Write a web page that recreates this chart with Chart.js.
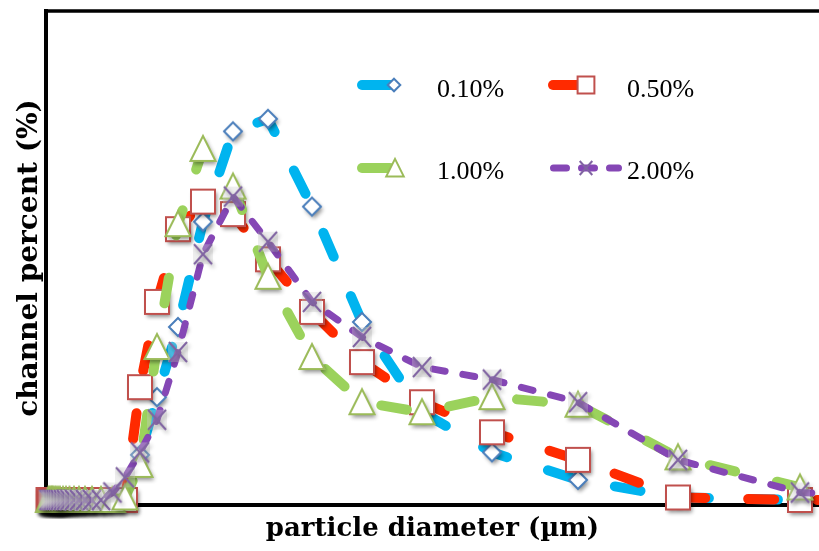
<!DOCTYPE html>
<html>
<head>
<meta charset="utf-8">
<script src="https://cdn.jsdelivr.net/npm/chart.js@4.4.1/dist/chart.umd.min.js"></script>
<style>
  html, body { margin: 0; padding: 0; background: #fff; }
  #wrap { width: 819px; height: 551px; }
</style>
</head>
<body>
<div id="wrap"><canvas id="psd" width="819" height="551"></canvas></div>
<script>
// particle diameter channels (µm)
const diameters = [0.05, 0.07, 0.10, 0.12, 0.14, 0.17, 0.20, 0.24, 0.28, 0.34, 0.40, 0.47, 0.56, 0.66, 0.78, 0.92, 1.10,
                   1.33, 1.58, 1.88, 2.22, 2.64, 3.14, 3.74, 4.44, 5.32, 6.32, 7.52, 8.92, 10.64, 12.64, 15.08, 17.90];

const seriesNames = ['0.10%', '0.50%', '1.00%', '2.00%'];

// channel percent (%) per concentration
const pct010 = [0, 0, 0, 0, 0, 0, 0, 0, 0, 0, 0, 0, 0, 0, 0, 0, 0,
                0.0, 0.2, 1.8, 4.1, 6.9, 11.1, 14.7, 15.2, 11.7, 7.1, 3.5, 1.9, 0.8, 0.1, 0.0, 0.0];
const pct050 = [0, 0, 0, 0, 0, 0, 0, 0, 0, 0, 0, 0, 0, 0, 0, 0, 0,
                0.0, 0.0, 4.5, 7.9, 10.8, 11.9, 11.4, 9.6, 7.5, 5.5, 3.9, 2.7, 1.6, 0.1, 0.0, 0.0];
const pct100 = [0, 0, 0, 0, 0, 0, 0, 0, 0, 0, 0, 0, 0, 0, 0, 0, 0,
                0.0, 0.1, 1.4, 6.1, 11.0, 14.0, 12.5, 8.9, 5.7, 3.9, 3.5, 4.1, 3.8, 1.7, 0.5, 0.1];
const pct200 = [0, 0, 0, 0, 0, 0, 0, 0, 0, 0, 0, 0, 0, 0, 0, 0, 0,
                0.3, 0.9, 1.9, 3.2, 5.9, 9.8, 12.1, 10.3, 7.9, 6.5, 5.3, 4.8, 3.9, 1.6, 0.3, 0.1];

const X_MAX = 15.46;
const Y_MIN = -0.2, Y_MAX = 19.5;

// marker bitmaps (white filled, with a soft drop shadow like the original)
function makeMarker(kind, stroke, scale, shadow) {
    const c = document.createElement('canvas');
    c.width = 44; c.height = 44;
    const g = c.getContext('2d');
    g.translate(22, 22);
    g.scale(scale, scale);
    g.lineWidth = 2 / scale;
    g.lineJoin = 'miter';
    if (shadow) {
        g.shadowColor = 'rgba(0,0,0,0.45)';
        g.shadowBlur = 4; g.shadowOffsetX = 2; g.shadowOffsetY = 3;
    }
    g.beginPath();
    if (kind === 'diamond') {
        g.moveTo(0, -9); g.lineTo(9, 0); g.lineTo(0, 9); g.lineTo(-9, 0); g.closePath();
    } else if (kind === 'square') {
        g.rect(-12, -12, 24, 24);
    } else if (kind === 'triangle') {
        g.moveTo(0, -13); g.lineTo(12.5, 12); g.lineTo(-12.5, 12); g.closePath();
    }
    if (kind === 'cross') {
        g.fillStyle = shadow ? 'rgba(205,205,205,0.35)' : 'rgba(0,0,0,0)';
        g.shadowColor = 'transparent';
        g.fillRect(-10, -10, 20, 20);
        if (shadow) g.shadowColor = 'rgba(0,0,0,0.35)';
        g.beginPath();
        g.moveTo(-9, -10); g.lineTo(9, 10);
        g.moveTo(9, -10); g.lineTo(-9, 10);
        g.strokeStyle = stroke;
        g.stroke();
        return c;
    }
    g.fillStyle = '#fff';
    g.fill();
    g.shadowColor = 'transparent';
    g.strokeStyle = stroke;
    g.stroke();
    return c;
}

const styles = [
    { line: '#00B4EF', mark: '#4A7EBB', kind: 'diamond',  width: 10, dash: [26, 43] },
    { line: '#FF2A00', mark: '#C0504D', kind: 'square',   width: 10, dash: [26, 43] },
    { line: '#9BD25C', mark: '#9BBB59', kind: 'triangle', width: 10, dash: [26, 43] },
    { line: '#8547B5', mark: '#8064A2', kind: 'cross',    width: 7,  dash: [12, 18] }
];
const seriesValues = [pct010, pct050, pct100, pct200];

const datasets = seriesValues.map((vals, i) => ({
    label: seriesNames[i],
    data: vals.map((v, j) => ({ x: diameters[j], y: v })),
    borderColor: styles[i].line,
    borderWidth: styles[i].width,
    borderDash: styles[i].dash,
    borderCapStyle: 'round',
    borderJoinStyle: 'round',
    tension: 0,
    fill: false,
    pointStyle: makeMarker(styles[i].kind, styles[i].mark, 1, true),
    pointRadius: 5,
    clip: false,
    order: 4 - i
}));

// top frame line
const framePlugin = {
    id: 'frame',
    beforeDatasetsDraw(chart) {
        const { ctx, chartArea } = chart;
        ctx.save();
        ctx.strokeStyle = '#000';
        ctx.lineWidth = 3.5;
        ctx.beginPath();
        ctx.moveTo(chartArea.left - 2, chartArea.top);
        ctx.lineTo(chart.width, chartArea.top);
        ctx.stroke();
        ctx.restore();
    }
};

// 2 x 2 legend inside the plot, like the original
const legendPlugin = {
    id: 'legend2x2',
    afterDraw(chart) {
        const ctx = chart.ctx;
        const items = [
            { x1: 362, x2: 390, mx: 394, y: 85,  tx: 437, ty: 97 },
            { x1: 553, x2: 582, mx: 586, y: 85,  tx: 627, ty: 97 },
            { x1: 362, x2: 390, mx: 395, y: 168, tx: 437, ty: 179 },
            { x1: 553.5, x2: 618.5, mx: 586, y: 168, tx: 627, ty: 179 }
        ];
        items.forEach((it, i) => {
            const st = styles[i];
            ctx.save();
            ctx.strokeStyle = st.line;
            ctx.lineWidth = st.width;
            ctx.lineCap = 'round';
            if (i === 3) ctx.setLineDash([13, 15]);
            ctx.beginPath();
            ctx.moveTo(it.x1, it.y);
            ctx.lineTo(it.x2, it.y);
            ctx.stroke();
            ctx.setLineDash([]);
            const m = makeMarker(st.kind, st.mark, 0.7, false);
            ctx.drawImage(m, it.mx - 22, it.y - 22);
            ctx.fillStyle = '#000';
            ctx.font = '26px "Liberation Serif", "DejaVu Serif", serif';
            ctx.textBaseline = 'alphabetic';
            ctx.textAlign = 'left';
            ctx.fillText(seriesNames[i], it.tx, it.ty);
            ctx.restore();
        });
    }
};

new Chart(document.getElementById('psd'), {
    type: 'line',
    data: { datasets: datasets },
    options: {
        responsive: false,
        animation: false,
        devicePixelRatio: 1,
        layout: { autoPadding: false, padding: { top: 11, right: 0, left: 0, bottom: 0 } },
        plugins: { legend: { display: false }, tooltip: { enabled: false } },
        scales: {
            x: {
                type: 'linear', min: 0, max: X_MAX,
                ticks: { display: false },
                grid: { display: false, drawTicks: false },
                border: { display: true, color: '#000', width: 4 },
                title: {
                    display: true, text: 'particle diameter (µm)', color: '#000',
                    font: { family: '"DejaVu Serif", serif', size: 26, weight: 'bold' },
                    padding: { top: 0, bottom: 6 }
                },
                afterFit(scale) { scale.height = 46; }
            },
            y: {
                type: 'linear', min: Y_MIN, max: Y_MAX,
                ticks: { display: false },
                grid: { display: false, drawTicks: false },
                border: { display: true, color: '#000', width: 4 },
                title: {
                    display: true, text: 'channel percent (%)', color: '#000',
                    font: { family: '"DejaVu Serif", serif', size: 28, weight: 'bold' },
                    padding: { top: 13, bottom: 0 }
                },
                afterFit(scale) { scale.width = 46; }
            }
        }
    },
    plugins: [framePlugin, legendPlugin]
});
</script>
</body>
</html>
